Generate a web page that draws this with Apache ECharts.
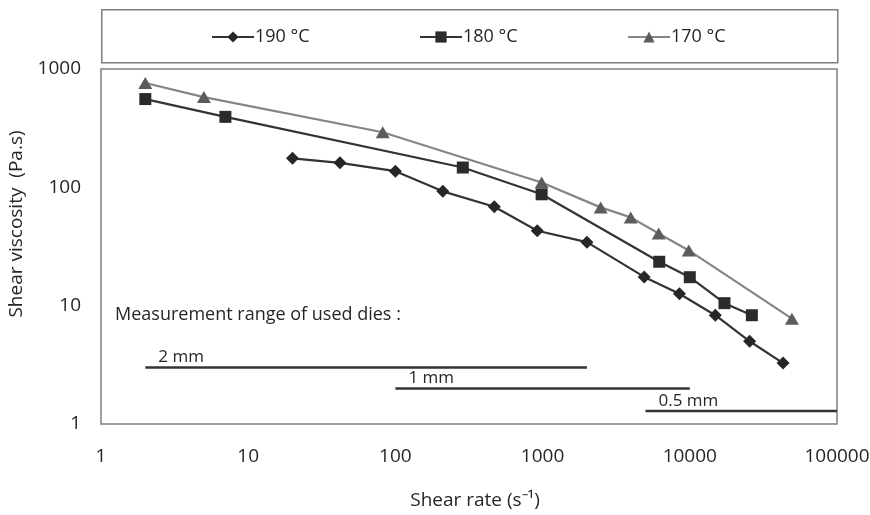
<!DOCTYPE html>
<html>
<head>
<meta charset="utf-8">
<script src="https://cdn.jsdelivr.net/npm/echarts@6/dist/echarts.min.js"></script>
<style>
  html, body { margin: 0; padding: 0; background: #fff; }
  #chart { width: 870px; height: 515px; }
</style>
</head>
<body>
<div id="chart"></div>
<script>
// ---- data ----
const seriesNames = ['190 °C', '180 °C', '170 °C'];

const shear190 = [20, 42, 100, 210, 470, 920, 2000, 4900, 8500, 14900, 25500, 43000];
const visc190  = [176, 161, 137, 92.5, 68.6, 43, 34.4, 17.5, 12.6, 8.3, 5.0, 3.27];

const shear180 = [2, 7, 287, 985, 6200, 10000, 17200, 26400];
const visc180  = [557, 394, 147, 87.3, 23.5, 17.4, 10.5, 8.3];

const shear170 = [2, 5, 82, 985, 2480, 3970, 6150, 9840, 49400];
const visc170  = [761, 579, 292, 110, 67.7, 55.7, 40.7, 29.3, 7.76];

const dieLabels = ['2 mm', '1 mm', '0.5 mm'];
const dieStart  = [2, 100, 5000];
const dieEnd    = [2000, 10000, 100000];
const dieLevel  = [3, 2, 1.29];

const xTickLabels = ['1', '10', '100', '1000', '10000', '100000'];
const yTickLabels = ['1', '10', '100', '1000'];

const noteText = 'Measurement range of used dies :';
const xTitle = 'Shear rate (s\u207B\u00B9)';
const yTitle = 'Shear viscosity  (Pa.s)';

// ---- build ----
const FONT = 'Open Sans';
const TXT = '#262626';
const pairs = (xs, ys) => xs.map((x, i) => [x, ys[i]]);
const tickFmt = (labels) => (v) => {
  const i = Math.round(Math.log10(v));
  return labels[i] !== undefined ? labels[i] : '';
};

const dieSeries = dieLabels.map((lab, i) => ({
  type: 'line',
  silent: true,
  symbol: 'circle',
  symbolSize: 1,
  itemStyle: { color: 'rgba(0,0,0,0)' },
  lineStyle: { color: '#333333', width: 2.5 },
  z: 1,
  data: [
    { value: [dieStart[i], dieLevel[i]],
      label: { show: true, formatter: lab, position: 'top', align: 'left', distance: 1,
               offset: [13, 0], color: TXT, fontFamily: FONT, fontSize: 17 } },
    { value: [dieEnd[i], dieLevel[i]], label: { show: false } }
  ]
}));

const chart = echarts.init(document.getElementById('chart'), null, { renderer: 'canvas' });
chart.setOption({
  animation: false,
  backgroundColor: '#ffffff',
  textStyle: { fontFamily: FONT },
  grid: { left: 101, right: 33, top: 69, bottom: 91, show: true,
          outerBoundsMode: 'none', containLabel: false,
          borderColor: '#7f7f7f', borderWidth: 1.5, backgroundColor: 'transparent' },
  legend: [0, 1, 2].map((i) => ({
    data: [seriesNames[i]],
    left: [206, 414, 622][i],
    top: 23,
    itemWidth: 42, itemHeight: 14, itemGap: 0,
    textStyle: { color: TXT, fontFamily: FONT, fontSize: 18, padding: [0, 0, 0, -4] },
    selectedMode: false
  })),
  xAxis: {
    type: 'log', logBase: 10, min: 1, max: 100000,
    axisLine: { show: false }, axisTick: { show: false }, splitLine: { show: false },
    axisLabel: { color: TXT, fontFamily: FONT, fontSize: 19, margin: 23,
                 formatter: tickFmt(xTickLabels) },
    name: xTitle, nameLocation: 'middle', nameGap: 67,
    nameTextStyle: { color: TXT, fontFamily: FONT, fontSize: 19, padding: [0, 0, 0, 12] }
  },
  yAxis: {
    type: 'log', logBase: 10, min: 1, max: 1000,
    axisLine: { show: false }, axisTick: { show: false }, splitLine: { show: false },
    axisLabel: { color: TXT, fontFamily: FONT, fontSize: 19, margin: 20,
                 formatter: tickFmt(yTickLabels) }
  },
  graphic: [
    { type: 'rect', left: 101, top: 9, silent: true,
      shape: { width: 736, height: 53 },
      style: { fill: 'transparent', stroke: '#7f7f7f', lineWidth: 1.5 } },
    { type: 'text', left: 115, top: 306, silent: true,
      style: { text: noteText, fill: TXT, font: '18px "Open Sans"' } },
    { type: 'text', x: 17, y: 224, rotation: Math.PI / 2, silent: true,
      style: { text: yTitle, fill: TXT, font: '19px "Open Sans"',
               align: 'center', verticalAlign: 'middle' } }
  ],
  series: [
    ...dieSeries,
    {
      name: seriesNames[0], type: 'line', symbol: 'diamond', symbolSize: 13,
      itemStyle: { color: '#262626' }, lineStyle: { color: '#333333', width: 2.2 },
      data: pairs(shear190, visc190), z: 3
    },
    {
      name: seriesNames[1], type: 'line', symbol: 'rect', symbolSize: 12,
      itemStyle: { color: '#2b2b2b' }, lineStyle: { color: '#333333', width: 2.2 },
      data: pairs(shear180, visc180), z: 3
    },
    {
      name: seriesNames[2], type: 'line', symbol: 'triangle', symbolSize: [14, 12],
      itemStyle: { color: '#5c5c5c' }, lineStyle: { color: '#858585', width: 2.2 },
      data: pairs(shear170, visc170), z: 3
    }
  ]
});
</script>
</body>
</html>
